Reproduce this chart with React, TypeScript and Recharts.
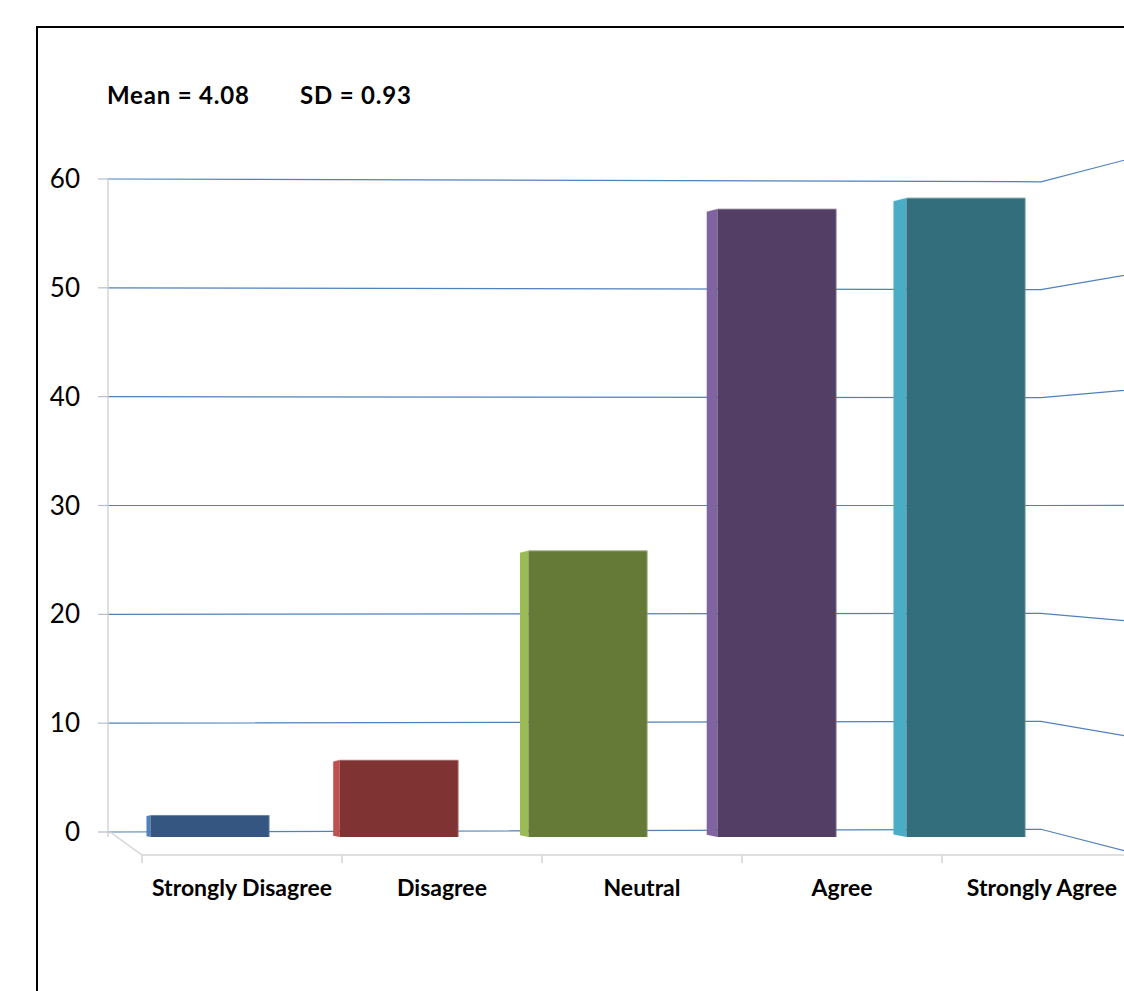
import { BarChart, Bar, XAxis, YAxis, CartesianGrid, Cell } from 'recharts'

const categories = ['Strongly Disagree', 'Disagree', 'Neutral', 'Agree', 'Strongly Agree']
const responses = [2, 7, 26, 57, 58]
const yTicks = [0, 10, 20, 30, 40, 50, 60]
const meanLabel = 'Mean = 4.08'
const sdLabel = 'SD = 0.93'

const frontColors = ['#345681', '#7F3333', '#667A38', '#533F66', '#326E7C']
const sideColors = ['#4F81BD', '#C0504D', '#9BBB59', '#8064A2', '#4BACC6']

const data = categories.map((name, i) => ({ name, value: responses[i] }))

const FONT = 'Lato, Carlito, Calibri, "Open Sans", sans-serif'
const GRID_BLUE = '#4F81BD'
const WALL_GREY = '#D4D4D4'

// 3D projection tweaks (chart pixel space)
const HORIZON_Y = 498
const BACK_WALL_WIDTH = 933
const BACK_TILT = 0.0085
const SIDE_SLOPE = 0.0008
const SIDE_ORIGIN = -194
const SIDE_RATE = 0.0119
const FLOOR_DEPTH = 32

function GridLine(props: any) {
  const { x1, y1 } = props
  const xr = x1 + BACK_WALL_WIDTH
  const yr = y1 + (HORIZON_Y - y1) * BACK_TILT
  const run = 200
  const xs = xr + run
  const ys = yr + (yr - HORIZON_Y) * SIDE_SLOPE * run
  return (
    <path
      d={`M${x1},${y1} L${xr},${yr} L${xs},${ys}`}
      fill="none"
      stroke={GRID_BLUE}
      strokeWidth={1.2}
    />
  )
}

function ValueTick(props: any) {
  const { x, y, payload } = props
  return (
    <text x={x} y={y} dy={9} textAnchor="end" fontFamily={FONT} fontSize={26} fill="#000">
      {payload.value}
    </text>
  )
}

function FloorTick(props: any) {
  const { x, y, payload, index } = props
  const half = payload.offset || 100
  const left = x - half
  const fy = y - 12
  return (
    <g>
      {index === 0 && (
        <line x1={left - FLOOR_DEPTH} y1={fy - 23} x2={left} y2={fy} stroke={WALL_GREY} strokeWidth={1.5} />
      )}
      <line x1={left} y1={fy} x2={x + half} y2={fy} stroke={WALL_GREY} strokeWidth={1.5} />
      <line x1={left} y1={fy} x2={left} y2={fy + 8} stroke={WALL_GREY} strokeWidth={1.5} />
      <text x={x} y={y + 29} textAnchor="middle" fontFamily={FONT} fontWeight={700} fontSize={23} fill="#000">
        {payload.value}
      </text>
    </g>
  )
}

function Box3D(props: any) {
  const { x, y, width, height, index, fill } = props
  if (!height || height <= 0) return null
  const w = (x - SIDE_ORIGIN) * SIDE_RATE
  const side = sideColors[index]
  return (
    <g>
      <path
        d={`M${x},${y} L${x - w},${y + w * 0.25} L${x - w},${y + height - w * 0.2} L${x},${y + height} Z`}
        fill={side}
      />
      <rect x={x} y={y} width={width} height={height} fill={fill} />
      <line x1={x - w} y1={y + w * 0.25} x2={x} y2={y} stroke="rgba(255,255,255,0.35)" strokeWidth={1} />
      <line x1={x} y1={y + 0.5} x2={x + width} y2={y + 0.5} stroke="rgba(255,255,255,0.3)" strokeWidth={1} />
      <line x1={x + width - 0.5} y1={y} x2={x + width - 0.5} y2={y + height} stroke="rgba(255,255,255,0.2)" strokeWidth={1} />
    </g>
  )
}

const statStyle = {
  position: 'absolute' as const,
  top: 74,
  fontFamily: FONT,
  fontWeight: 700,
  fontSize: 24,
  letterSpacing: 0.8,
  lineHeight: '26px',
  whiteSpace: 'nowrap' as const,
}

export default function App() {
  return (
    <div style={{ position: 'fixed', left: 0, top: 0, width: 1124, height: 991, overflow: 'hidden', background: '#fff' }}>
      <div style={{ position: 'absolute', left: 8, top: 8, width: 1300, height: 1100 }}>
        <div
          style={{
            position: 'absolute',
            left: 28,
            top: 18,
            width: 1200,
            height: 1100,
            border: '2px solid #000',
            boxSizing: 'border-box',
          }}
        />
        <div style={{ ...statStyle, left: 99 }}>{meanLabel}</div>
        <div style={{ ...statStyle, left: 292 }}>{sdLabel}</div>
        <div style={{ position: 'absolute', left: 0, top: 0 }}>
          <BarChart
            width={1200}
            height={1000}
            data={data}
            margin={{ top: 171, right: 66, left: 40, bottom: 111 }}
            barCategoryGap="18.5%"
          >
            <CartesianGrid
              xAxisId="floor"
              yAxisId="back"
              vertical={false}
              syncWithTicks
              horizontal={(p: any) => <GridLine key={p.key} {...p} />}
            />
            <XAxis
              xAxisId="floor"
              dataKey="name"
              padding={{ left: 34, right: 0 }}
              axisLine={false}
              tickLine={false}
              tickSize={0}
              tickMargin={0}
              height={60}
              interval={0}
              tick={<FloorTick />}
            />
            <XAxis xAxisId="bars" dataKey="name" hide padding={{ left: 7.5, right: 81.5 }} />
            <YAxis
              yAxisId="back"
              type="number"
              domain={[-0.4594, 60]}
              allowDataOverflow
              ticks={yTicks}
              width={60}
              tickSize={10}
              tickMargin={18}
              axisLine={{ stroke: WALL_GREY, strokeWidth: 1.5 }}
              tickLine={{ stroke: '#B8BEC8', strokeWidth: 1.2 }}
              tick={<ValueTick />}
            />
            <YAxis yAxisId="front" type="number" domain={[0, 59.7]} allowDataOverflow hide />
            <Bar
              xAxisId="bars"
              yAxisId="front"
              dataKey="value"
              shape={<Box3D />}
              isAnimationActive={false}
            >
              {data.map((d, i) => (
                <Cell key={d.name} fill={frontColors[i]} />
              ))}
            </Bar>
          </BarChart>
        </div>
      </div>
    </div>
  )
}
